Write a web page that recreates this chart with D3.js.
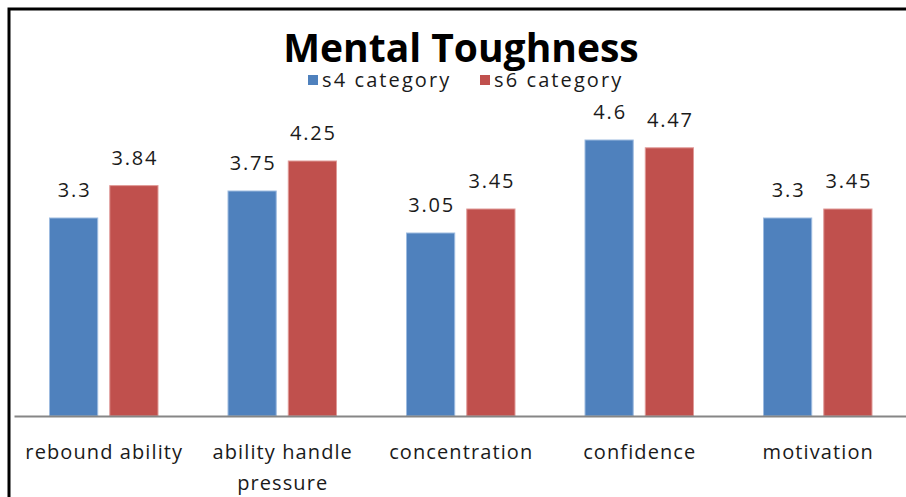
<!DOCTYPE html>
<html>
<head>
<meta charset="utf-8">
<script src="https://cdn.jsdelivr.net/npm/d3@7"></script>
<style>
  html, body { margin: 0; padding: 0; background: #fff; }
  svg { display: block; font-family: "Open Sans", sans-serif; }
</style>
</head>
<body>
<div id="chart"></div>
<script>
// chart data
const categories = ['rebound ability', 'ability handle pressure', 'concentration', 'confidence', 'motivation'];
const seriesNames = ['s4 category', 's6 category'];
const s4Values = [3.3, 3.75, 3.05, 4.6, 3.3];
const s6Values = [3.84, 4.25, 3.45, 4.47, 3.45];
const colors = ['#4F81BD', '#C0504D'];

const W = 906, H = 497;
const svg = d3.select('#chart').append('svg')
  .attr('width', W)
  .attr('height', H);

svg.append('rect').attr('width', W).attr('height', H).attr('fill', '#fff');

// outer frame (right and bottom edges are off the picture)
svg.append('rect')
  .attr('x', 9).attr('y', 9)
  .attr('width', W + 20).attr('height', H + 20)
  .attr('fill', 'none')
  .attr('stroke', '#000')
  .attr('stroke-width', 3);

// scales
const x0 = d3.scaleBand()
  .domain(categories)
  .range([14.5, 907])
  .paddingInner(0)
  .paddingOuter(0);

const x1 = d3.scaleBand()
  .domain(seriesNames)
  .range([35, x0.bandwidth() - 35])
  .paddingInner(0.2);

const y = d3.scaleLinear()
  .domain([0, 5])
  .range([416, 116]);

// bars
const rows = categories.map((c, i) => ({ cat: c, vals: [s4Values[i], s6Values[i]] }));

const groups = svg.append('g').selectAll('g')
  .data(rows)
  .join('g')
  .attr('transform', d => `translate(${x0(d.cat)},0)`);

groups.selectAll('rect')
  .data(d => d.vals.map((v, j) => ({ name: seriesNames[j], v, j })))
  .join('rect')
  .attr('x', d => x1(d.name))
  .attr('width', x1.bandwidth())
  .attr('y', d => y(d.v))
  .attr('height', d => y(0) - y(d.v))
  .attr('fill', d => colors[d.j])
  .attr('stroke', d => d.j === 0 ? '#9dbbe0' : '#e09a98')
  .attr('stroke-width', 1);

// data labels
groups.selectAll('text')
  .data(d => d.vals.map((v, j) => ({ name: seriesNames[j], v, j })))
  .join('text')
  .attr('x', d => x1(d.name) + x1.bandwidth() / 2 + 1)
  .attr('y', d => y(d.v) - 21)
  .attr('text-anchor', 'middle')
  .attr('font-size', 20)
  .attr('letter-spacing', 1.8)
  .attr('fill', '#1a1a1a')
  .text(d => d.v);

// x axis line
svg.append('line')
  .attr('x1', x0.range()[0]).attr('x2', x0.range()[1])
  .attr('y1', y(0) + 0.5).attr('y2', y(0) + 0.5)
  .attr('stroke', '#868686')
  .attr('stroke-width', 2);

// category labels (wrap long one)
const wrapped = {
  'ability handle pressure': ['ability handle', 'pressure']
};
svg.append('g').selectAll('text')
  .data(categories)
  .join('text')
  .attr('y', 459)
  .attr('text-anchor', 'middle')
  .attr('font-size', 20)
  .attr('letter-spacing', 1.1)
  .attr('fill', '#1a1a1a')
  .each(function(d) {
    const lines = wrapped[d] || [d];
    const t = d3.select(this);
    lines.forEach((ln, i) => {
      t.append('tspan')
        .attr('x', x0(d) + x0.bandwidth() / 2 + 0.5)
        .attr('dy', i === 0 ? 0 : 31)
        .text(ln);
    });
  });

// title
svg.append('text')
  .attr('x', 461)
  .attr('y', 62)
  .attr('text-anchor', 'middle')
  .attr('font-size', 39)
  .attr('font-weight', 'bold')
  .attr('fill', '#000')
  .text('Mental Toughness');

// legend
const legendX = [308, 480];
const legend = svg.append('g').selectAll('g')
  .data(seriesNames)
  .join('g')
  .attr('transform', (d, i) => `translate(${legendX[i]},75)`);

legend.append('rect')
  .attr('width', 10).attr('height', 10)
  .attr('fill', (d, i) => colors[i]);

legend.append('text')
  .attr('x', 14)
  .attr('y', 12)
  .attr('font-size', 20)
  .attr('letter-spacing', 2.1)
  .attr('fill', '#1a1a1a')
  .text(d => d);
</script>
</body>
</html>
